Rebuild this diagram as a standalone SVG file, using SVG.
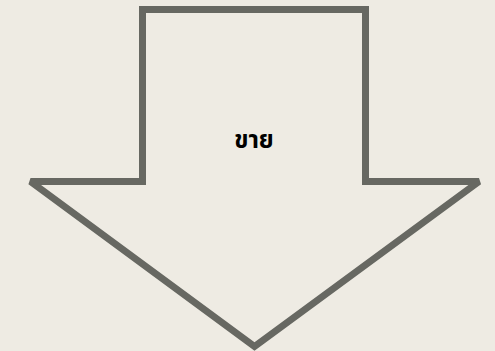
<svg xmlns="http://www.w3.org/2000/svg" width="495" height="351" viewBox="0 0 495 351">
<style>
.shape{fill:#eeebe3;stroke:#676862;stroke-width:7;stroke-linejoin:miter;stroke-miterlimit:2}
.lbl{font-family:"Noto Sans Thai","Noto Sans Thai UI","Noto Sans","DejaVu Sans",sans-serif;font-weight:bold;font-size:24px;fill:#000;text-anchor:middle}
</style>
<rect width="495" height="351" fill="#eeebe3"/>
<g id="arrow">
<path class="shape" d="M142.5,9.5 H365.5 V181.5 H479 L254.5,346.5 L30.5,181.5 H142.5 Z"/>
<text class="lbl" x="254" y="147.5">ขาย</text>
</g>
</svg>
